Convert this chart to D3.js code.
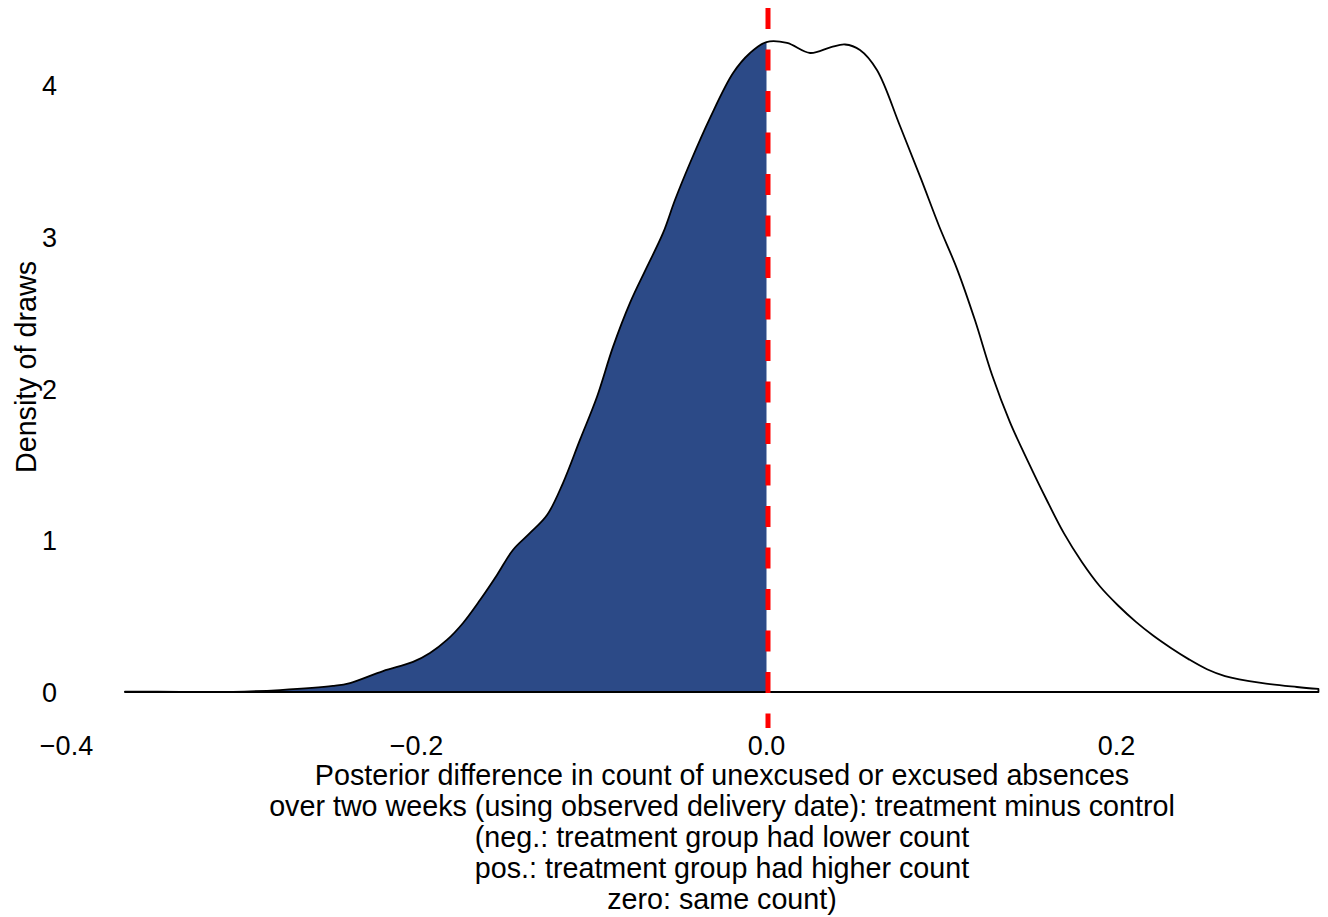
<!DOCTYPE html>
<html>
<head>
<meta charset="utf-8">
<script src="https://cdn.jsdelivr.net/npm/d3@7"></script>
<style>
  html, body { margin: 0; padding: 0; background: #fff; }
  svg { display: block; }
  text { font-family: "Liberation Sans", Arial, Helvetica, sans-serif; fill: #000; }
</style>
</head>
<body>
<svg id="chart" width="1328" height="917"></svg>
<script>
// Kernel density estimate of the posterior draws (difference, density)
const densX = [-0.3666, -0.3351, -0.3049, -0.2780, -0.2477, -0.2380, -0.2191, -0.2020,
  -0.1923, -0.1826, -0.1734, -0.1637, -0.1540, -0.1449, -0.1351, -0.1254, -0.1163,
  -0.1066, -0.0969, -0.0877, -0.0780, -0.0683, -0.0591, -0.0523, -0.0437, -0.0323,
  -0.0191, -0.0094, 0.0000, 0.0117, 0.0249, 0.0369, 0.0449, 0.0534, 0.0631, 0.0763,
  0.0883, 0.0986, 0.1089, 0.1191, 0.1289, 0.1391, 0.1494, 0.1597, 0.1700, 0.1803,
  0.1906, 0.2009, 0.2111, 0.2209, 0.2311, 0.2414, 0.2517, 0.2620, 0.2826, 0.3031, 0.3154];
const densY = [0.003, 0.001, 0.001, 0.013, 0.040, 0.059, 0.138, 0.198,
  0.257, 0.343, 0.455, 0.606, 0.771, 0.936, 1.048, 1.166, 1.377,
  1.661, 1.944, 2.274, 2.564, 2.801, 3.025, 3.242, 3.486, 3.782,
  4.079, 4.211, 4.283, 4.277, 4.211, 4.250, 4.267, 4.231, 4.099, 3.730,
  3.381, 3.071, 2.787, 2.451, 2.089, 1.779, 1.520, 1.275, 1.045, 0.855,
  0.695, 0.570, 0.462, 0.372, 0.290, 0.215, 0.150, 0.105, 0.060, 0.033, 0.020];

const xTicks = [-0.4, -0.2, 0.0, 0.2];
const yTicks = [0, 1, 2, 3, 4];
const cutoff = 0;

const yTitle = "Density of draws";
const xTitleLines = [
  "Posterior difference in count of unexcused or excused absences",
  "over two weeks (using observed delivery date): treatment minus control",
  "(neg.: treatment group had lower count",
  "pos.: treatment group had higher count",
  "zero: same count)"
];

const points = densX.map((x, i) => ({ x, y: densY[i] }));

const svg = d3.select("#chart");
const x = d3.scaleLinear().domain([-0.4, 0.2]).range([66.5, 1116.5]);
const y = d3.scaleLinear().domain([0, 4]).range([692, 85]);

const tickSize = 27;
const titleSize = 28.7;

// area of the density, closed along the zero line
const area = d3.area()
  .x(d => x(d.x)).y0(y(0)).y1(d => y(d.y))
  .curve(d3.curveCatmullRom.alpha(0.5));

// shade the part below the cutoff
svg.append("clipPath").attr("id", "below")
  .append("rect")
  .attr("x", 0).attr("y", 0)
  .attr("width", x(cutoff)).attr("height", 917);

svg.append("path")
  .datum(points)
  .attr("d", area)
  .attr("fill", "#2c4a87")
  .attr("clip-path", "url(#below)");

svg.append("path")
  .datum(points)
  .attr("d", area)
  .attr("fill", "none")
  .attr("stroke", "#000")
  .attr("stroke-width", 1.8)
  .attr("stroke-linejoin", "round");

// reference line at zero
svg.append("line")
  .attr("x1", x(cutoff) + 1.5).attr("x2", x(cutoff) + 1.5)
  .attr("y1", 8).attr("y2", 728)
  .attr("stroke", "#ff0000")
  .attr("stroke-width", 5)
  .attr("stroke-dasharray", "21,20.5");

// x tick labels
const fmt = d3.format(".1f");
svg.append("g").selectAll("text")
  .data(xTicks).join("text")
  .attr("x", d => x(d))
  .attr("y", 755)
  .attr("text-anchor", "middle")
  .attr("font-size", tickSize)
  .text(d => fmt(d));

// y tick labels
svg.append("g").selectAll("text")
  .data(yTicks).join("text")
  .attr("x", 57)
  .attr("y", d => y(d) + 10)
  .attr("text-anchor", "end")
  .attr("font-size", tickSize)
  .text(d => d);

// y title
svg.append("text")
  .attr("transform", "translate(36,367) rotate(-90)")
  .attr("text-anchor", "middle")
  .attr("font-size", titleSize)
  .text(yTitle);

// x title (multi-line)
svg.append("g").selectAll("text")
  .data(xTitleLines).join("text")
  .attr("x", 722)
  .attr("y", (d, i) => 785 + i * 31)
  .attr("text-anchor", "middle")
  .attr("font-size", titleSize)
  .text(d => d);
</script>
</body>
</html>
